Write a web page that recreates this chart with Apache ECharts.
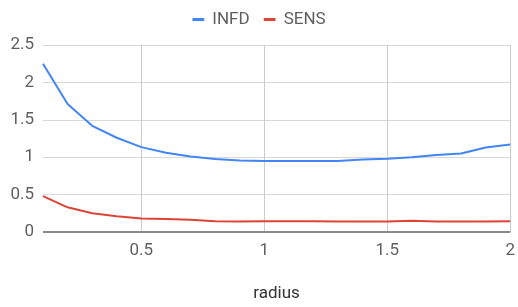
<!DOCTYPE html>
<html><head><meta charset="utf-8">
<script src="https://cdn.jsdelivr.net/npm/echarts@6/dist/echarts.min.js"></script>
<style>html,body{margin:0;padding:0;background:#fff}#c{width:518px;height:307px}</style>
</head><body><div id="c"></div>
<script>
const radius = [0.1,0.2,0.3,0.4,0.5,0.6,0.7,0.8,0.9,1.0,1.1,1.2,1.3,1.4,1.5,1.6,1.7,1.8,1.9,2.0];
const infd = [2.25,1.71,1.42,1.26,1.135,1.06,1.01,0.975,0.955,0.95,0.95,0.95,0.95,0.97,0.98,1.0,1.03,1.05,1.13,1.17];
const sens = [0.48,0.33,0.25,0.21,0.18,0.175,0.165,0.145,0.14,0.145,0.145,0.145,0.14,0.14,0.14,0.15,0.14,0.14,0.14,0.145];
const xTicks = [0.5,1,1.5,2];
const yTicks = [0,0.5,1,1.5,2,2.5];

const font = 'Roboto, Arial, sans-serif';
const chart = echarts.init(document.getElementById('c'));
const showX = (i) => xTicks.some(t => Math.abs(radius[i]-t) < 1e-9);
chart.setOption({
  animation: false,
  legend: {
    top: 6, left: 'center', itemWidth: 12, itemHeight: 3, itemGap: 14,
    icon: 'roundRect',
    textStyle: {fontFamily: font, fontSize: 17, color: '#5f5f5f', padding: [0, 0, 0, 3]},
    data: ['INFD','SENS']
  },
  grid: {left: 43, right: 5, top: 45, bottom: 71, containLabel: false},
  xAxis: {
    type: 'category', boundaryGap: false,
    data: radius.map(String),
    name: 'radius', nameLocation: 'middle', nameGap: 53,
    nameTextStyle: {fontFamily: font, fontSize: 17, color: '#333'},
    axisLine: {show: false},
    axisTick: {show: false},
    axisLabel: {interval: (i) => showX(i), fontFamily: font, fontSize: 17, color: '#5f5f5f', margin: 10,
      formatter: (v) => String(Number(v))},
    splitLine: {show: true, interval: (i) => showX(i), lineStyle: {color: '#cccccc', width: 1}}
  },
  yAxis: {
    type: 'value', min: yTicks[0], max: yTicks[yTicks.length-1], interval: 0.5,
    axisLine: {show: false}, axisTick: {show: false},
    axisLabel: {fontFamily: font, fontSize: 17, color: '#5f5f5f', margin: 9},
    splitLine: {lineStyle: {color: '#d9d9d9', width: 1}}
  },
  series: [
    {name: 'INFD', type: 'line', data: infd, showSymbol: false, symbol: 'none',
      lineStyle: {color: '#4285F4', width: 2}, itemStyle: {color: '#4285F4'}},
    {name: 'SENS', type: 'line', data: sens, showSymbol: false, symbol: 'none',
      lineStyle: {color: '#DB4437', width: 2}, itemStyle: {color: '#DB4437'},
      markLine: {silent: true, symbol: 'none', label: {show: false},
        lineStyle: {color: '#888888', width: 2, type: 'solid'},
        data: [{yAxis: 0}]}}
  ]
});
</script></body></html>
